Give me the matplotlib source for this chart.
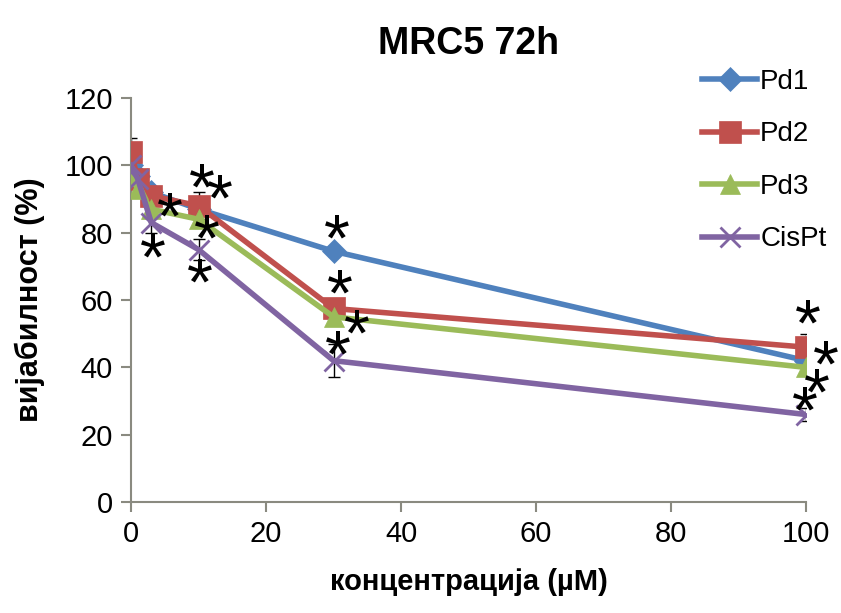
import matplotlib
matplotlib.use('Agg')
import matplotlib.pyplot as plt
import matplotlib.transforms as mtransforms
import numpy as np

plt.rcParams['font.family'] = ['Liberation Sans', 'DejaVu Sans']

# concentrations (uM)
conc = [0, 1, 3, 10, 30, 100]

# viability (%)
pd1 = [100, 97, 92, 87, 74.5, 42]
pd2 = [104, 96, 91, 88, 57.5, 46]
pd3 = [97, 93, 87, 84, 55, 40]
cispt = [100, 96, 83, 75, 42, 26]

pd1_err = [2, 1.5, 1.5, 1.5, 1.5, 1.5]
pd2_err = [4, 2, 2, 4, 2, 4]
pd3_err = [2, 2, 2, 2, 2, 2]
cispt_err = [2, 2, 3, 3, 5, 2]

names = ['Pd1', 'Pd2', 'Pd3', 'CisPt']
colors = ['#4F81BD', '#C0504D', '#9BBB59', '#8064A2']
markers = ['D', 's', '^', 'x']
msizes = [12, 16, 14, 15]

# significance marks (x, y)
stars = [(10.5, 97.6), (13.2, 94.2), (5.8, 88.8), (11.2, 82.3), (3.3, 76.8),
         (10.2, 69.4), (30.5, 82.3), (31, 66), (33.4, 54), (30.7, 48),
         (100.3, 57), (103.0, 45), (101.6, 36.7), (99.9, 31.3)]

fig = plt.figure(figsize=(8.41, 6.13), dpi=100)
ax = fig.add_axes([0.1558, 0.181, 0.8026, 0.659])

series = [pd1, pd2, pd3, cispt]
errs = [pd1_err, pd2_err, pd3_err, cispt_err]
for vals, err, name, c, m, ms in zip(series, errs, names, colors, markers, msizes):
    ax.errorbar(conc, vals, yerr=err, fmt='none', ecolor='black', elinewidth=1,
                capsize=4, capthick=1, zorder=2)
    ax.plot(conc, vals, color=c, lw=4, marker=m, markersize=ms,
            markeredgewidth=2 if m == 'x' else 0.5, markeredgecolor=c,
            label=name, zorder=3)

star_fs = 48
star_tr = mtransforms.offset_copy(ax.transData, fig=fig, x=0, y=-0.536 * star_fs,
                                  units='points')
for sx, sy in stars:
    ax.text(sx, sy, '*', fontsize=star_fs, ha='center', va='baseline',
            color='black', transform=star_tr, zorder=5, clip_on=False)

ax.set_xlim(0, 100)
ax.set_ylim(0, 120)
ax.set_xticks([0, 20, 40, 60, 80, 100])
ax.set_yticks([0, 20, 40, 60, 80, 100, 120])
for s in ['top', 'right']:
    ax.spines[s].set_visible(False)
for s in ['left', 'bottom']:
    ax.spines[s].set_color('#8a8a80')
    ax.spines[s].set_linewidth(1.5)
ax.tick_params(direction='out', length=7, width=1.5, color='#8a8a80',
               labelsize=21, pad=6)

ax.set_title('MRC5 72h', fontsize=27, fontweight='bold', pad=32)
ax.set_xlabel('концентрација (µM)', fontsize=21, fontweight='bold', labelpad=14)
ax.set_ylabel('вијабилност (%)', fontsize=22, fontweight='bold', labelpad=14)

fig.legend(loc='upper left', bbox_to_anchor=(0.818, 0.91), frameon=False,
           fontsize=20, handlelength=2.0, labelspacing=0.95, handletextpad=0.1,
           borderpad=0)

fig.savefig('out.png', dpi=100)
